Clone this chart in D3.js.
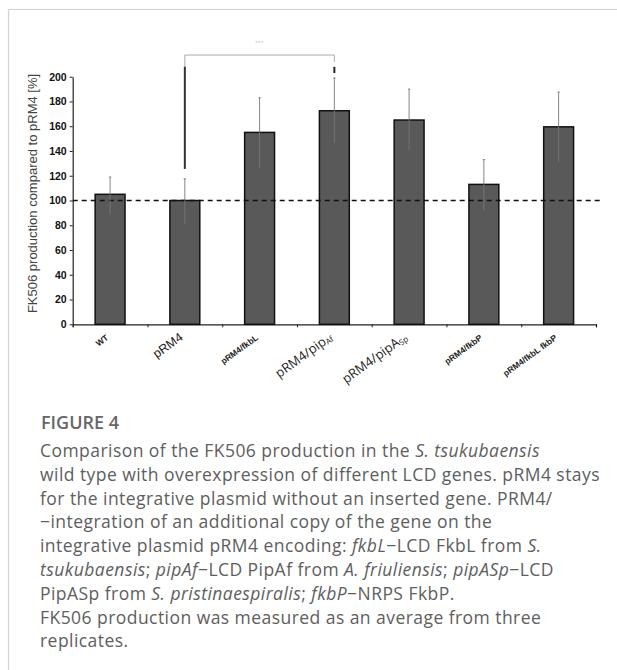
<!DOCTYPE html>
<html>
<head>
<meta charset="utf-8">
<script src="https://cdn.jsdelivr.net/npm/d3@7"></script>
<style>
  body { margin: 0; background: #fff; }
</style>
</head>
<body>
<div id="vis"></div>
<script>
// chart values
var categories = ['WT', 'pRM4', 'pRM4/fkbL', 'pRM4/pipAf', 'pRM4/pipASp', 'pRM4/fkbP', 'pRM4/fkbL fkbP'];
var labelMain = ['WT', 'pRM4', 'pRM4/fkbL', 'pRM4/pip', 'pRM4/pipA', 'pRM4/fkbP', 'pRM4/fkbL fkbP'];
var labelSub = ['', '', '', 'Af', 'Sp', '', ''];
var means = [105, 100, 155, 172.5, 165, 113, 159.5];
var errLow = [89, 81, 126, 146.5, 140.5, 92, 131];
var errHigh = [119, 117.5, 183, 199, 190, 133, 187.5];
var yTicks = [0, 20, 40, 60, 80, 100, 120, 140, 160, 180, 200];
var refValue = 100;
var sigPair = ['pRM4', 'pRM4/pipAf'];
var sigLabel = '***';
var yTitle = 'FK506 production compared to pRM4 [%]';

var width = 617;
var height = 670;

var svg = d3.select('#vis').append('svg')
  .attr('width', width)
  .attr('height', height);

// light frame round the figure (only left and top show)
svg.append('rect')
  .attr('x', 8.5).attr('y', 9.5)
  .attr('width', 800).attr('height', 800)
  .attr('fill', 'none')
  .attr('stroke', '#d4d4d4')
  .attr('stroke-width', 1.2);

var x = d3.scaleBand()
  .domain(categories)
  .range([72.7, 596])
  .paddingInner(0.6)
  .paddingOuter(0.3);

var xEdge = d3.scaleLinear()
  .domain([0, categories.length])
  .range([72.7, 596]);

var y = d3.scaleLinear()
  .domain([0, 200])
  .range([324.3, 76.7]);

var g = svg.append('g');

// y axis
var yAxis = g.append('g')
  .attr('transform', 'translate(72.7,0)')
  .call(d3.axisLeft(y).tickValues(yTicks).tickSize(3).tickSizeOuter(0));
yAxis.select('.domain').attr('stroke', '#222').attr('stroke-width', 1.2);
yAxis.selectAll('.tick line').attr('stroke', '#222');
yAxis.selectAll('.tick text')
  .attr('font-family', 'Liberation Sans, Arial, sans-serif')
  .attr('font-size', 10.5)
  .attr('font-weight', 'bold')
  .attr('fill', '#111')
  .attr('x', -6);

// x axis: ticks sit on the band edges
var xAxis = g.append('g')
  .attr('transform', 'translate(0,324.3)')
  .call(d3.axisBottom(xEdge).ticks(categories.length).tickSize(3).tickSizeOuter(3).tickFormat(''));
xAxis.select('.domain').attr('stroke', '#222').attr('stroke-width', 1.2);
xAxis.selectAll('.tick line').attr('stroke', '#222');

// bars
g.selectAll('.bar')
  .data(categories)
  .enter().append('rect')
  .attr('class', 'bar')
  .attr('x', function (d) { return x(d); })
  .attr('y', function (d, i) { return y(means[i]); })
  .attr('width', x.bandwidth())
  .attr('height', function (d, i) { return y(0) - y(means[i]); })
  .attr('fill', '#595959')
  .attr('stroke', '#111')
  .attr('stroke-width', 1.5);

// reference line at 100 %
g.append('line')
  .attr('x1', 72.7).attr('x2', 603)
  .attr('y1', y(refValue)).attr('y2', y(refValue))
  .attr('stroke', '#111')
  .attr('stroke-width', 1.4)
  .attr('stroke-dasharray', '5,4');

// error bars
var cx = function (d) { return x(d) + x.bandwidth() / 2; };
g.selectAll('.err')
  .data(categories)
  .enter().append('line')
  .attr('class', 'err')
  .attr('x1', cx).attr('x2', cx)
  .attr('y1', function (d, i) { return y(errLow[i]); })
  .attr('y2', function (d, i) { return y(errHigh[i]); })
  .attr('stroke', '#777')
  .attr('stroke-width', 0.9);
g.selectAll('.cap')
  .data(categories)
  .enter().append('line')
  .attr('class', 'cap')
  .attr('x1', function (d) { return cx(d) - 1.2; })
  .attr('x2', function (d) { return cx(d) + 1.2; })
  .attr('y1', function (d, i) { return y(errHigh[i]); })
  .attr('y2', function (d, i) { return y(errHigh[i]); })
  .attr('stroke', '#777')
  .attr('stroke-width', 0.9);

// significance bracket
var sx0 = cx(sigPair[0]);
var sx1 = cx(sigPair[1]);
g.append('path')
  .attr('d', 'M' + sx0 + ',' + y(199) + 'V' + y(217.5) + 'H' + sx1 + 'V' + y(212))
  .attr('fill', 'none')
  .attr('stroke', '#aaa')
  .attr('stroke-width', 1);
g.append('line')
  .attr('x1', sx0).attr('x2', sx0)
  .attr('y1', y(208)).attr('y2', y(125.5))
  .attr('stroke', '#333')
  .attr('stroke-width', 2);
g.append('line')
  .attr('x1', sx1).attr('x2', sx1)
  .attr('y1', y(208)).attr('y2', y(203))
  .attr('stroke', '#222')
  .attr('stroke-width', 2);
g.append('text')
  .attr('x', (sx0 + sx1) / 2)
  .attr('y', y(226))
  .attr('text-anchor', 'middle')
  .attr('font-family', 'Liberation Sans, Arial, sans-serif')
  .attr('font-size', 6)
  .attr('letter-spacing', 0.6)
  .attr('fill', '#c4c4c4')
  .text(sigLabel);

// y axis title
g.append('text')
  .attr('transform', 'translate(37,' + ((y(0) + y(200)) / 2 - 7) + ') rotate(-90)')
  .attr('text-anchor', 'middle')
  .attr('font-family', 'Liberation Sans, Arial, sans-serif')
  .attr('font-size', 13)
  .attr('fill', '#444')
  .text(yTitle);

// category labels, rotated
g.selectAll('.xlab')
  .data(categories)
  .enter().append('text')
  .attr('class', 'xlab')
  .attr('text-anchor', 'end')
  .attr('transform', function (d) {
    return 'translate(' + (cx(d) - 1) + ',339) rotate(-36)';
  })
  .attr('fill', '#222')
  .each(function (d, i) {
    var t = d3.select(this);
    if (labelSub[i]) {
      t.attr('font-family', 'Open Sans, sans-serif').attr('font-size', 13);
      t.append('tspan').text(labelMain[i]);
      t.append('tspan').attr('font-size', 8).attr('dy', 1.5).text(labelSub[i]);
    } else if (labelMain[i] === 'pRM4') {
      t.attr('font-family', 'Liberation Sans, Arial, sans-serif').attr('font-size', 12.5);
      t.text(labelMain[i]);
    } else {
      t.attr('font-family', 'Liberation Sans, Arial, sans-serif')
        .attr('font-size', 8.5)
        .attr('font-weight', 'bold');
      t.text(labelMain[i]);
    }
  });

// caption
var captionTitle = 'FIGURE 4';
var captionLines = [
  [['Comparison of the FK506 production in the ', 0], ['S. tsukubaensis', 1]],
  [['wild type with overexpression of different LCD genes. pRM4 stays', 0]],
  [['for the integrative plasmid without an inserted gene. PRM4/', 0]],
  [['\u2212integration of an additional copy of the gene on the', 0]],
  [['integrative plasmid pRM4 encoding: ', 0], ['fkbL', 1], ['\u2212LCD FkbL from ', 0], ['S.', 1]],
  [['tsukubaensis', 1], ['; ', 0], ['pipAf', 1], ['\u2212LCD PipAf from ', 0], ['A. friuliensis', 1], ['; ', 0], ['pipASp', 1], ['\u2212LCD', 0]],
  [['PipASp from ', 0], ['S. pristinaespiralis', 1], ['; ', 0], ['fkbP', 1], ['\u2212NRPS FkbP.', 0]],
  [['FK506 production was measured as an average from three', 0]],
  [['replicates.', 0]]
];

svg.append('text')
  .attr('x', 41).attr('y', 429)
  .attr('font-family', 'Open Sans, sans-serif')
  .attr('font-size', 18)
  .attr('font-weight', 600)
  .attr('fill', '#666')
  .text(captionTitle);

svg.selectAll('.cap-line')
  .data(captionLines)
  .enter().append('text')
  .attr('class', 'cap-line')
  .attr('x', 40)
  .attr('y', function (d, i) { return 457 + i * 23.8; })
  .attr('font-family', 'Open Sans, sans-serif')
  .attr('font-size', 17.5)
  .attr('letter-spacing', 0.45)
  .attr('fill', '#5e5e5e')
  .each(function (d) {
    var t = d3.select(this);
    d.forEach(function (p) {
      t.append('tspan')
        .attr('font-style', p[1] ? 'italic' : 'normal')
        .text(p[0]);
    });
  });
</script>
</body>
</html>
